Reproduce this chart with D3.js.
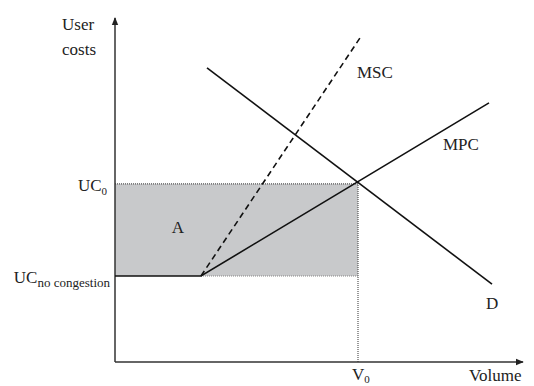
<!DOCTYPE html>
<html>
<head>
<meta charset="utf-8">
<script src="https://cdn.jsdelivr.net/npm/d3@7"></script>
<style>
body { margin: 0; background: #fff; }
</style>
</head>
<body>
<div id="chart"></div>
<script>
// values in chart units (volume 0..100, user cost 0..100)
var kink = [21.5, 25.3];        // end of flat no-congestion section
var equilibrium = [60.75, 52.4]; // V0, UC0
var mpcLine = [[0, 25.3], [21.5, 25.3], [93.5, 76.2]];
var mscLine = [[21.5, 25.3], [61.75, 96.2]];
var demandLine = [[23, 86.5], [94.25, 22.9]];
var axisMax = [102, 101.2];

var width = 534, height = 386;

var x = d3.scaleLinear().domain([0, 100]).range([115, 515]);
var y = d3.scaleLinear().domain([0, 100]).range([362, 22]);

var svg = d3.select("#chart").append("svg")
	.attr("width", width)
	.attr("height", height);

svg.append("defs").append("marker")
	.attr("id", "arrow")
	.attr("viewBox", "0 0 10 10")
	.attr("refX", 9).attr("refY", 5)
	.attr("markerWidth", 5.5).attr("markerHeight", 5.5)
	.attr("orient", "auto")
	.append("path")
	.attr("d", "M0,1 L10,5 L0,9 Z")
	.attr("fill", "#222");

var line = d3.line()
	.x(d => x(d[0]))
	.y(d => y(d[1]));

// shaded area A
svg.append("rect")
	.attr("x", x(0))
	.attr("y", y(equilibrium[1]))
	.attr("width", x(equilibrium[0]) - x(0))
	.attr("height", y(kink[1]) - y(equilibrium[1]))
	.attr("fill", "#c8c9cb");

// dotted guides
svg.append("path")
	.attr("d", line([[0, equilibrium[1]], equilibrium]))
	.attr("stroke", "#555").attr("stroke-width", 1.2)
	.attr("stroke-dasharray", "1,1").attr("fill", "none");
svg.append("path")
	.attr("d", line([[equilibrium[0], 0], equilibrium]))
	.attr("stroke", "#555").attr("stroke-width", 1.2)
	.attr("stroke-dasharray", "1,1").attr("fill", "none");
svg.append("path")
	.attr("d", line([kink, [equilibrium[0], kink[1]]]))
	.attr("stroke", "#888").attr("stroke-width", 1.2)
	.attr("stroke-dasharray", "1,1").attr("fill", "none");

// axes
svg.append("line")
	.attr("x1", x(0)).attr("y1", y(0))
	.attr("x2", x(0)).attr("y2", y(axisMax[1]))
	.attr("stroke", "#333").attr("stroke-width", 1.5)
	.attr("marker-end", "url(#arrow)");
svg.append("line")
	.attr("x1", x(0)).attr("y1", y(0))
	.attr("x2", x(axisMax[0])).attr("y2", y(0))
	.attr("stroke", "#333").attr("stroke-width", 1.5)
	.attr("marker-end", "url(#arrow)");

// curves
svg.append("path")
	.attr("d", line(mpcLine))
	.attr("stroke", "#111").attr("stroke-width", 1.6).attr("fill", "none");
svg.append("path")
	.attr("d", line(mscLine))
	.attr("stroke", "#111").attr("stroke-width", 1.6)
	.attr("stroke-dasharray", "6,4").attr("fill", "none");
svg.append("path")
	.attr("d", line(demandLine))
	.attr("stroke", "#111").attr("stroke-width", 1.6).attr("fill", "none");

// labels
function label(px, py, txt, anchor) {
	var t = svg.append("text")
		.attr("x", px).attr("y", py)
		.attr("text-anchor", anchor || "start")
		.attr("font-family", "Liberation Serif")
		.attr("font-size", 17)
		.attr("fill", "#222");
	if (txt) t.text(txt);
	return t;
}
label(62, 30, "User");
label(62, 55, "costs");
label(357, 78, "MSC");
label(443, 150, "MPC");
label(486, 309, "D");
label(178, 233, "A", "middle");

var uc0 = label(107, 191, "", "end");
uc0.append("tspan").text("UC");
uc0.append("tspan").attr("dy", 4).attr("font-size", 11).text("0");

var ucn = label(110, 283, "", "end");
ucn.append("tspan").text("UC");
ucn.append("tspan").attr("dy", 4).attr("font-size", 13).text("no congestion");

var v0 = label(x(equilibrium[0]) - 6, 380, "");
v0.append("tspan").text("V");
v0.append("tspan").attr("dy", 3).attr("font-size", 11).text("0");

label(469, 381, "Volume");
</script>
</body>
</html>
